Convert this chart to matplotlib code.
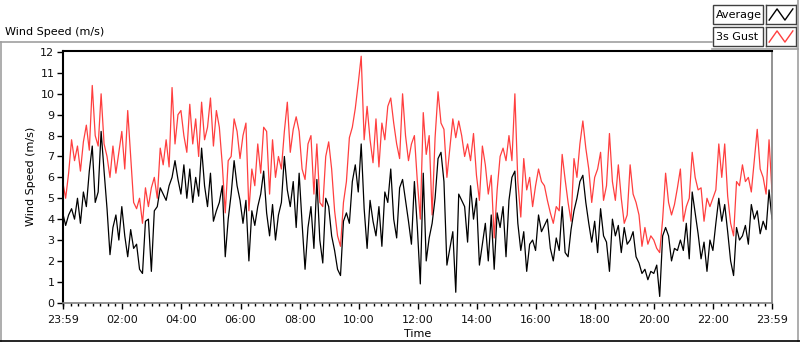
import matplotlib
matplotlib.use("Agg")
import matplotlib.pyplot as plt
import matplotlib.dates as mdates
from matplotlib.lines import Line2D
from matplotlib.patches import Rectangle
import pandas as pd

plt.rcParams['font.family'] = ['DejaVu Sans']

W, H = 800, 342

# one reading every 6 minutes, 23:59 -> 23:59 next day
times = pd.date_range('2016-05-01 23:59', '2016-05-02 23:59', freq='6min')

average = [
    4.3, 3.7, 4.2, 4.5, 4.0, 5.0, 3.8, 5.3, 4.6, 6.3, 7.5, 4.8, 5.3, 8.2, 6.3, 4.5, 2.3, 3.6, 4.2, 3.0,
    4.6, 3.2, 2.2, 3.5, 2.6, 2.8, 1.6, 1.4, 3.9, 4.0, 1.5, 4.4, 4.6, 5.5, 5.2, 4.9, 5.6, 6.0, 6.8, 5.9,
    5.2, 6.6, 5.0, 6.4, 4.8, 6.0, 5.1, 7.4, 5.6, 4.6, 6.2, 3.9, 4.4, 4.8, 5.6, 2.2, 4.0, 5.2, 6.8, 5.6,
    4.9, 3.8, 4.9, 2.0, 4.4, 3.7, 4.6, 5.2, 6.3, 4.3, 3.2, 4.7, 3.0, 4.2, 4.8, 7.0, 5.4, 4.6, 5.8, 3.6,
    6.2, 3.8, 1.6, 3.6, 4.6, 2.6, 5.9, 3.0, 1.9, 5.0, 4.6, 3.2, 2.5, 1.6, 1.3, 3.9, 4.3, 3.8, 5.8, 6.6,
    5.3, 7.6, 4.5, 2.6, 4.9, 3.9, 3.2, 4.6, 2.7, 5.3, 4.8, 6.4, 4.0, 3.1, 5.5, 5.9, 4.9, 3.9, 2.8, 5.8,
    3.6, 0.9, 6.2, 2.0, 3.1, 3.8, 5.0, 6.9, 7.2, 5.8, 1.8, 2.6, 3.4, 0.5, 5.2, 4.9, 4.6, 2.9, 5.6, 4.0,
    5.0, 1.8, 2.8, 3.8, 2.0, 4.2, 1.6, 4.3, 3.6, 4.6, 2.2, 4.9, 6.0, 6.3, 3.8, 2.5, 3.4, 1.5, 2.8, 3.0,
    2.5, 4.2, 3.4, 3.7, 4.0, 2.6, 2.0, 3.1, 2.5, 4.6, 2.4, 2.2, 3.5, 4.4, 5.0, 5.8, 6.1, 4.8, 3.8, 2.9,
    3.9, 2.4, 4.5, 3.2, 2.9, 1.5, 4.0, 3.2, 3.7, 2.4, 3.6, 2.8, 3.0, 3.4, 2.2, 1.9, 1.4, 1.6, 1.1, 1.5,
    1.4, 1.8, 0.3, 3.2, 3.6, 3.2, 2.0, 2.6, 2.5, 3.0, 2.5, 3.8, 2.1, 5.3, 4.3, 3.3, 2.1, 2.9, 1.5, 3.0,
    2.5, 3.8, 5.0, 3.9, 4.7, 3.4, 2.0, 1.3, 3.6, 3.0, 3.2, 3.7, 2.8, 4.7, 4.0, 4.4, 3.3, 3.9, 3.5, 5.4,
    4.0,
]

gust = [
    5.8, 5.0, 6.2, 7.8, 6.8, 7.5, 6.3, 7.7, 8.5, 7.3, 10.4, 8.0, 7.5, 10.0, 7.6, 7.0, 6.0, 7.5, 6.2, 7.2,
    8.2, 6.4, 9.2, 7.0, 4.8, 4.5, 5.0, 3.8, 5.5, 4.6, 5.5, 6.0, 5.0, 7.4, 6.6, 7.8, 6.5, 10.3, 7.6, 9.0,
    9.2, 8.0, 7.2, 9.5, 7.6, 8.8, 7.0, 9.6, 7.8, 8.4, 9.8, 7.5, 9.2, 8.4, 6.6, 4.3, 6.8, 7.0, 8.8, 8.2,
    6.9, 8.0, 8.6, 4.4, 6.4, 5.6, 7.6, 6.2, 8.4, 8.2, 5.2, 7.8, 6.0, 7.0, 6.4, 8.2, 9.6, 7.2, 8.3, 8.9,
    8.2, 6.4, 5.9, 7.6, 8.0, 5.2, 7.6, 4.8, 4.6, 7.0, 7.7, 6.4, 4.4, 3.2, 2.7, 4.8, 5.8, 7.9, 8.4, 9.3,
    10.5, 11.8, 7.8, 9.4, 7.8, 6.7, 8.8, 6.5, 8.6, 7.8, 9.4, 9.8, 8.6, 7.6, 6.9, 10.0, 8.0, 6.8, 7.6, 8.0,
    5.8, 4.0, 9.1, 7.1, 8.0, 4.2, 7.9, 10.1, 8.6, 8.3, 6.0, 7.4, 8.8, 7.9, 8.7, 8.0, 7.0, 7.6, 6.8, 8.1,
    6.1, 4.9, 7.5, 6.6, 5.2, 6.1, 3.1, 5.4, 7.0, 7.4, 6.8, 8.0, 6.8, 10.0, 5.8, 4.1, 6.9, 5.4, 6.0, 4.6,
    5.6, 6.4, 5.8, 5.6, 4.9, 4.3, 3.8, 4.6, 4.4, 7.1, 5.9, 4.8, 3.9, 6.9, 6.0, 7.6, 8.7, 7.4, 6.4, 4.8,
    6.0, 6.4, 7.2, 4.9, 5.6, 8.1, 5.8, 4.9, 6.6, 5.0, 3.8, 4.2, 6.6, 5.2, 4.8, 4.2, 2.7, 3.6, 2.8, 3.2,
    3.0, 2.6, 2.4, 4.0, 6.2, 4.8, 4.2, 4.7, 5.5, 6.4, 3.9, 4.6, 5.0, 7.2, 6.0, 5.4, 5.5, 3.9, 5.0, 4.6,
    5.0, 5.4, 7.6, 6.0, 7.6, 5.1, 3.8, 3.2, 5.8, 5.6, 6.6, 5.8, 6.0, 5.3, 6.8, 8.3, 6.4, 6.0, 5.2, 7.8,
    5.3,
]

tick_labels = ['23:59', '02:00', '04:00', '06:00', '08:00', '10:00', '12:00',
               '14:00', '16:00', '18:00', '20:00', '22:00', '23:59']
tick_times = [pd.Timestamp('2016-05-01 ' + tick_labels[0])] + \
             [pd.Timestamp('2016-05-02 ' + s) for s in tick_labels[1:]]
y_ticks = list(range(0, 13))


def fx(px):
    return px / W


def fy(py):
    return 1 - py / H


fig = plt.figure(figsize=(W / 100, H / 100), dpi=100)
fig.patch.set_facecolor('white')

ax = fig.add_axes([fx(62.7), fy(302.7), fx(772 - 62.7), (302.7 - 51) / H])
ax.plot(times, gust, color='#ff3f3f', lw=0.9)
ax.plot(times, average, color='black', lw=0.9)

ax.set_xlim(tick_times[0], tick_times[-1])
ax.set_ylim(0, 12.05)
ax.set_yticks(y_ticks)
ax.set_xticks(tick_times)
ax.set_xticklabels(tick_labels)
ax.xaxis.set_minor_locator(mdates.MinuteLocator(byminute=[0, 15, 30, 45]))
ax.tick_params(axis='both', which='major', direction='out', length=4, width=1,
               labelsize=8, color='black', labelcolor='#111111', pad=2)
ax.tick_params(axis='x', which='minor', direction='out', length=2.5, width=1, color='black')
ax.tick_params(axis='x', which='major', pad=5)

for side in ['top', 'left']:
    ax.spines[side].set_color('black')
    ax.spines[side].set_linewidth(1.5)
for side in ['bottom', 'right']:
    ax.spines[side].set_color('#808080')
    ax.spines[side].set_linewidth(1.2)

ax.set_ylabel('Wind Speed (m/s)', fontsize=8, labelpad=3)
ax.set_xlabel('Time', fontsize=8, labelpad=3)

# chart frame and caption
fig.text(fx(5), fy(32), 'Wind Speed (m/s)', fontsize=8, va='center', ha='left')
fig.add_artist(Line2D([fx(0), fx(712)], [fy(42), fy(42)], color='#a0a0a0', lw=1.2))
fig.add_artist(Line2D([fx(712), fx(798)], [fy(49), fy(49)], color='#a0a0a0', lw=1.2))
fig.add_artist(Line2D([fx(0.5), fx(0.5)], [fy(42), fy(342)], color='#a0a0a0', lw=1.2))
fig.add_artist(Line2D([fx(797.5), fx(797.5)], [fy(0), fy(342)], color='#a0a0a0', lw=1.2))
fig.add_artist(Line2D([fx(0), fx(800)], [fy(341), fy(341)], color='black', lw=1.2))

# legend: name box + icon box per plot
legend_rows = [('Average', 'black', 5), ('3s Gust', '#ff3f3f', 27)]
for name, col, top in legend_rows:
    fig.add_artist(Rectangle((fx(713), fy(top + 19)), fx(50), 19 / H, transform=fig.transFigure,
                             facecolor='white', edgecolor='#404040', lw=1))
    fig.text(fx(716), fy(top + 9.5), name, fontsize=8, va='center', ha='left')
    icon = fig.add_axes([fx(766), fy(top + 19), fx(30), 19 / H])
    icon.plot([0, 1, 2, 3], [0, 1, 0, 1], color=col, lw=1)
    icon.set_xlim(-0.4, 3.4)
    icon.set_ylim(-0.35, 1.35)
    icon.set_xticks([])
    icon.set_yticks([])
    for s in icon.spines.values():
        s.set_color('#404040')
        s.set_linewidth(1)

fig.savefig('out.png', dpi=100)
